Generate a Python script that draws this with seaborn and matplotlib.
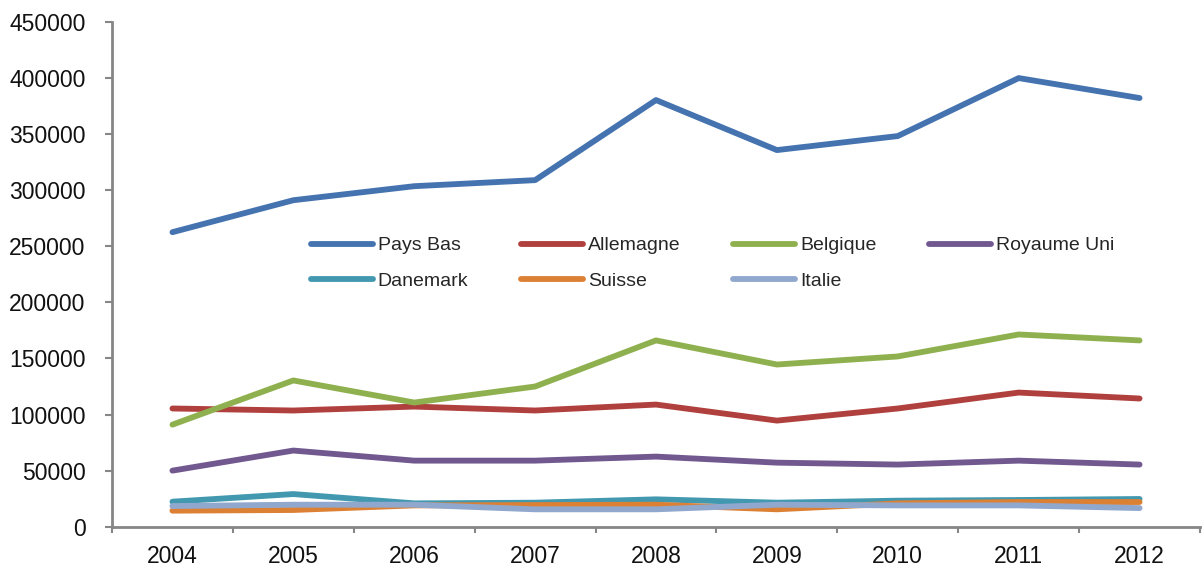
import matplotlib
matplotlib.use("Agg")
import matplotlib.pyplot as plt
import seaborn as sns
import pandas as pd

years = ["2004", "2005", "2006", "2007", "2008", "2009", "2010", "2011", "2012"]
pays_bas = [262600, 291100, 303600, 309000, 380400, 335800, 348300, 400000, 382200]
allemagne = [105400, 103600, 107100, 103600, 108900, 94600, 105400, 119600, 114300]
belgique = [91000, 130400, 110700, 125000, 166100, 144600, 151800, 171400, 166100]
royaume_uni = [50000, 67900, 58900, 58900, 62500, 57100, 55400, 58900, 55400]
danemark = [22300, 29100, 20800, 21400, 24400, 21400, 23200, 23800, 24700]
suisse = [14300, 14900, 19000, 19300, 19600, 15500, 20800, 22000, 22000]
italie = [18400, 19600, 19600, 15500, 15500, 19600, 19000, 19000, 16600]

series_names = ["Pays Bas", "Allemagne", "Belgique", "Royaume Uni", "Danemark", "Suisse", "Italie"]
series_values = [pays_bas, allemagne, belgique, royaume_uni, danemark, suisse, italie]
colors = ["#4573B0", "#B0403D", "#8FB04E", "#71588F", "#4298AF", "#DC8034", "#91A8CE"]
y_ticks = [0, 50000, 100000, 150000, 200000, 250000, 300000, 350000, 400000, 450000]

rows = []
for name, vals in zip(series_names, series_values):
    for i, v in enumerate(vals):
        rows.append({"idx": i, "value": v, "pays": name})
df = pd.DataFrame(rows)

sns.set_theme(style="white")
plt.rcParams["font.family"] = ["Liberation Sans", "DejaVu Sans"]

fig = plt.figure(figsize=(12.02, 5.72), dpi=100)
ax = fig.add_axes([112 / 1202, 1 - 526.7 / 572, (1200 - 112) / 1202, (526.7 - 22) / 572])

sns.lineplot(data=df, x="idx", y="value", hue="pays", hue_order=series_names,
             palette=colors, linewidth=4.2, ax=ax, legend=True,
             solid_capstyle="round", solid_joinstyle="round")

ax.set_xlim(-0.5, 8.5)
ax.set_ylim(0, 450000)
ax.set_yticks(y_ticks)
ax.set_yticklabels([str(t) for t in y_ticks], fontsize=16.5, color="#111111")
ax.set_xticks([i - 0.5 for i in range(len(years) + 1)])
ax.set_xticklabels([""] * (len(years) + 1))
ax.set_xticks(list(range(len(years))), minor=True)
ax.set_xticklabels(years, minor=True, fontsize=16.5, color="#111111")
ax.tick_params(axis="x", which="minor", bottom=False, length=0, pad=13)
ax.tick_params(axis="x", which="major", bottom=True, length=4, width=1.5,
               color="#868686", direction="out")
ax.tick_params(axis="y", left=True, length=5, width=1.5, color="#868686",
               direction="out", pad=14)
ax.set_xlabel("")
ax.set_ylabel("")
for s in ["top", "right"]:
    ax.spines[s].set_visible(False)
for s in ["left", "bottom"]:
    ax.spines[s].set_color("#868686")
    ax.spines[s].set_linewidth(2)

handles, labels = ax.get_legend_handles_labels()
hmap = dict(zip(labels, handles))
order = ["Pays Bas", "Danemark", "Allemagne", "Suisse", "Belgique", "Italie", "Royaume Uni"]
leg = ax.legend([hmap[o] for o in order], order, ncol=4, loc="center",
                bbox_to_anchor=(0.552, 0.522), frameon=False,
                prop={"size": 14},
                handlelength=3.2, handletextpad=0.25, columnspacing=2.7,
                labelspacing=0.9)
for line in leg.get_lines():
    line.set_linewidth(4.2)
    line.set_solid_capstyle("round")

fig.savefig("out.png", dpi=100)
